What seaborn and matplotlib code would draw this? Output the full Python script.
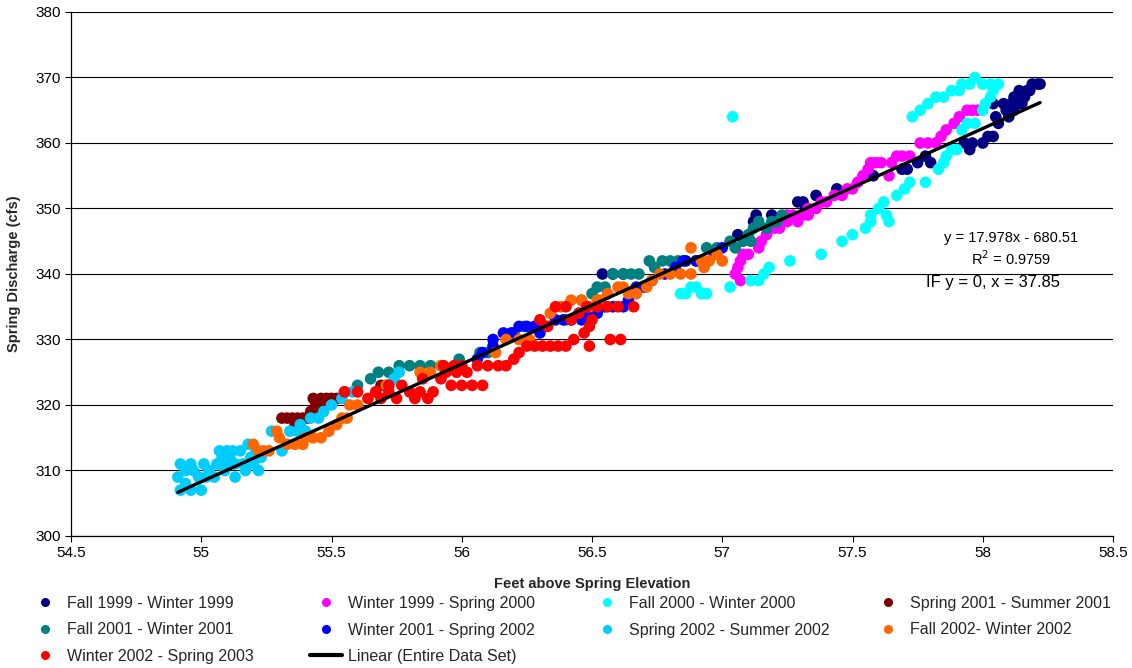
import numpy as np
import pandas as pd
import matplotlib
matplotlib.use("Agg")
import matplotlib.pyplot as plt
import seaborn as sns
from matplotlib.lines import Line2D

# ---------------- data ----------------
series_names = ["Fall 1999 - Winter 1999", "Winter 1999 - Spring 2000", "Fall 2000 - Winter 2000",
                "Spring 2001 - Summer 2001", "Fall 2001 - Winter 2001", "Winter 2001 - Spring 2002",
                "Spring 2002 - Summer 2002", "Fall 2002- Winter 2002", "Winter 2002 - Spring 2003"]
series_colors = ["#000080", "#FF00FF", "#00FFFF", "#800000", "#008080", "#0000FF",
                 "#00CCFF", "#FF6600", "#FF0000"]

fall1999_x = [56.54, 56.58, 56.62, 56.86, 56.90, 57.06, 57.12, 57.13, 57.19, 57.29, 57.31, 57.32, 57.36,
              57.44, 57.56, 57.58, 57.69, 57.71, 57.75, 57.80, 57.78, 57.93, 57.95, 57.96, 58.00, 58.02,
              58.04, 58.05, 58.06, 58.10, 58.09, 58.12, 58.04, 58.08, 58.12, 58.14, 58.16, 58.17, 58.19,
              58.21, 58.22, 58.13, 58.15, 58.11, 58.18]
fall1999_y = [340, 340, 340, 342, 342, 346, 348, 349, 349, 351, 351, 350, 352,
              353, 355, 355, 356, 356, 357, 357, 358, 360, 359, 360, 360, 361,
              361, 364, 363, 364, 365, 365, 366, 366, 367, 368, 367, 368, 369,
              369, 369, 366, 366, 366, 368]

winter1999_x = [57.05, 57.06, 57.07, 57.08, 57.07, 57.10, 57.14, 57.15, 57.17, 57.20, 57.22, 57.25, 57.27,
                57.29, 57.31, 57.33, 57.36, 57.38, 57.40, 57.43, 57.46, 57.48, 57.50, 57.52, 57.54, 57.56,
                57.57, 57.59, 57.61, 57.64, 57.65, 57.67, 57.69, 57.72, 57.76, 57.79, 57.82, 57.84, 57.86,
                57.89, 57.91, 57.94, 57.96, 57.98, 57.25, 57.33]
winter1999_y = [340, 341, 342, 343, 339, 343, 344, 345, 346, 347, 347, 348, 349,
                348, 349, 350, 350, 351, 351, 352, 352, 353, 353, 354, 355, 356,
                357, 357, 357, 355, 357, 358, 358, 358, 360, 360, 360, 361, 362,
                363, 364, 365, 365, 365, 349, 349]

fall2000_x = [56.84, 56.86, 56.88, 56.90, 56.92, 56.94, 57.03, 57.11, 57.14, 57.16, 57.18, 57.26, 57.38,
              57.46, 57.50, 57.55, 57.57, 57.57, 57.60, 57.62, 57.63, 57.64, 57.67, 57.70, 57.72, 57.78,
              57.83, 57.85, 57.86, 57.88, 57.90, 57.92, 57.94, 57.97, 58.00, 58.01, 58.03, 58.04, 57.73,
              57.76, 57.79, 57.82, 57.85, 57.88, 57.91, 57.92, 57.95, 57.97, 58.00, 58.03, 58.06, 57.04]
fall2000_y = [337, 337, 338, 338, 337, 337, 338, 339, 339, 340, 341, 342, 343,
              345, 346, 347, 348, 349, 350, 351, 349, 348, 352, 353, 354, 354,
              356, 357, 358, 359, 359, 362, 363, 363, 365, 366, 367, 368, 364,
              365, 366, 367, 367, 368, 368, 369, 369, 370, 369, 369, 369, 364]

spring2001_x = [55.31, 55.33, 55.35, 55.37, 55.39, 55.41, 55.36, 55.42, 55.44, 55.45, 55.46, 55.48,
                55.50, 55.52, 55.47, 55.69, 55.71, 55.43]
spring2001_y = [318, 318, 318, 318, 318, 318, 317, 319, 320, 319, 321, 321,
                321, 321, 320, 323, 323, 321]

fall2001_x = [55.55, 55.60, 55.65, 55.72, 55.76, 55.80, 55.84, 55.88, 55.92, 55.99, 56.07, 56.10, 56.20,
              56.24, 56.28, 56.40, 56.46, 56.50, 56.52, 56.55, 56.58, 56.62, 56.65, 56.68, 56.72, 56.74,
              56.77, 56.80, 56.83, 56.94, 56.98, 57.03, 57.05, 57.08, 57.11, 57.12, 57.14, 57.17, 57.19,
              57.21, 57.23, 57.10, 55.68]
fall2001_y = [322, 323, 324, 325, 326, 326, 326, 326, 326, 327, 328, 328, 331,
              332, 332, 333, 336, 337, 338, 338, 340, 340, 340, 340, 342, 341,
              342, 342, 342, 344, 344, 345, 344, 345, 345, 347, 348, 347, 348,
              348, 349, 346, 325]

winter2001_x = [56.06, 56.08, 56.12, 56.16, 56.19, 56.22, 56.25, 56.28, 56.32, 56.36, 56.39, 56.42, 56.45,
                56.49, 56.52, 56.55, 56.58, 56.62, 56.64, 56.67, 56.70, 56.73, 56.78, 56.82, 56.85, 56.90,
                56.97, 57.00, 56.46, 56.30, 56.12]
winter2001_y = [327, 328, 330, 331, 331, 332, 332, 332, 332, 333, 333, 333, 334,
                334, 334, 335, 335, 335, 336, 338, 338, 339, 340, 341, 342, 342,
                343, 344, 333, 331, 329]

spring2002_x = [54.92, 54.94, 54.96, 55.01, 54.91, 54.97, 54.92, 54.96, 55.00, 54.94, 54.99, 55.03, 55.07,
                55.10, 55.12, 55.08, 55.13, 55.05, 55.09, 55.13, 55.17, 55.20, 55.22, 55.23, 55.21, 55.15,
                55.18, 55.10, 55.27, 55.31, 55.34, 55.37, 55.42, 55.45, 55.47, 55.50, 55.54, 55.58, 55.67,
                55.74, 55.76, 55.38, 55.40, 55.02, 55.06, 55.11, 55.16, 55.19]
spring2002_y = [311, 310, 311, 311, 309, 310, 307, 307, 307, 308, 309, 310, 313,
                313, 313, 312, 311, 309, 310, 309, 310, 311, 310, 312, 313, 313,
                314, 311, 316, 313, 316, 316, 318, 318, 319, 320, 321, 322, 322,
                324, 325, 317, 316, 309, 311, 312, 311, 312]

fall2002_x = [55.20, 55.22, 55.24, 55.26, 55.29, 55.30, 55.33, 55.36, 55.39, 55.40, 55.43, 55.46, 55.49,
              55.52, 55.54, 55.56, 55.57, 55.60, 55.71, 55.84, 55.88, 55.92, 56.13, 56.17, 56.22, 56.26,
              56.34, 56.38, 56.42, 56.46, 56.52, 56.56, 56.60, 56.62, 56.64, 56.67, 56.71, 56.73, 56.76,
              56.80, 56.84, 56.88, 56.93, 56.92, 56.95, 56.98, 57.00, 56.88, 56.53, 56.49]
fall2002_y = [314, 313, 313, 313, 316, 315, 314, 314, 314, 315, 315, 315, 316,
              317, 318, 318, 320, 320, 323, 325, 325, 326, 328, 330, 330, 330,
              334, 335, 336, 336, 336, 337, 338, 338, 337, 337, 338, 339, 340,
              340, 340, 340, 341, 342, 342, 343, 342, 344, 336, 335]

winter2002_x = [55.55, 55.60, 55.64, 55.67, 55.69, 55.72, 55.75, 55.77, 55.80, 55.82, 55.85, 55.87, 55.89,
                55.92, 55.94, 55.96, 55.98, 56.00, 56.02, 56.04, 56.06, 56.08, 56.10, 55.93, 55.97, 56.00,
                56.14, 56.17, 56.20, 56.22, 56.25, 56.28, 56.31, 56.34, 56.37, 56.40, 56.43, 56.49, 56.47,
                56.49, 56.50, 56.30, 56.33, 56.36, 56.40, 56.42, 56.45, 56.48, 56.52, 56.56, 56.60, 56.66,
                56.57, 56.61, 55.84, 55.72]
winter2002_y = [322, 322, 321, 322, 321, 322, 321, 323, 322, 321, 324, 321, 322,
                324, 325, 323, 325, 323, 325, 323, 326, 323, 326, 326, 326, 326,
                326, 326, 327, 328, 329, 329, 329, 329, 329, 329, 330, 329, 331,
                332, 333, 333, 332, 335, 335, 333, 334, 335, 335, 335, 335, 335,
                330, 330, 322, 323]

series_x = [fall1999_x, winter1999_x, fall2000_x, spring2001_x, fall2001_x,
            winter2001_x, spring2002_x, fall2002_x, winter2002_x]
series_y = [fall1999_y, winter1999_y, fall2000_y, spring2001_y, fall2001_y,
            winter2001_y, spring2002_y, fall2002_y, winter2002_y]

trend_slope = 17.978
trend_intercept = -680.51
trend_label = "Linear (Entire Data Set)"
equation_lines = ["y = 17.978x - 680.51", "R$^2$ = 0.9759"]
note_text = "IF y = 0, x = 37.85"

x_ticks = [54.5, 55, 55.5, 56, 56.5, 57, 57.5, 58, 58.5]
x_tick_labels = ["54.5", "55", "55.5", "56", "56.5", "57", "57.5", "58", "58.5"]
y_ticks = [300, 310, 320, 330, 340, 350, 360, 370, 380]
x_label = "Feet above Spring Elevation"
y_label = "Spring Discharge (cfs)"

# ---------------- build ----------------
frames = []
for name, xs, ys in zip(series_names, series_x, series_y):
    frames.append(pd.DataFrame({"x": xs, "y": ys, "series": name}))
df = pd.concat(frames, ignore_index=True)

sns.set_theme(style="white")
plt.rcParams["font.family"] = ["Liberation Sans", "DejaVu Sans"]

W, H = 1132, 668
fig = plt.figure(figsize=(W / 100, H / 100), dpi=100)
fig.patch.set_facecolor("white")
ax = fig.add_axes([71 / W, 1 - 536 / H, (1113 - 71) / W, (536 - 12) / H])

sns.scatterplot(data=df, x="x", y="y", hue="series", hue_order=series_names,
                palette=series_colors, s=70, linewidth=0, ax=ax, legend=False, zorder=3)

all_x = df["x"].to_numpy()
tx = np.array([all_x.min(), all_x.max()])
ty = trend_slope * tx + trend_intercept
sns.lineplot(x=tx, y=ty, color="black", linewidth=2.4, ax=ax, zorder=4)

ax.set_xlim(54.5, 58.5)
ax.set_ylim(300, 380)
ax.set_xticks(x_ticks)
ax.set_xticklabels(x_tick_labels)
ax.set_yticks(y_ticks)
ax.tick_params(axis="both", labelsize=11, colors="black", direction="out", length=4, width=0.8,
               bottom=True, left=True)
ax.yaxis.grid(True, color="black", linewidth=0.8)
ax.xaxis.grid(False)
ax.set_axisbelow(True)
for side in ["top", "right"]:
    ax.spines[side].set_visible(False)
for side in ["left", "bottom"]:
    ax.spines[side].set_color("black")
    ax.spines[side].set_linewidth(0.9)

ax.set_xlabel(x_label, fontsize=10.5, fontweight="bold", labelpad=12)
ax.set_ylabel(y_label, fontsize=10.5, fontweight="bold", labelpad=10)

# equation
ax.text(1011 / W, 1 - 238 / H, equation_lines[0], transform=fig.transFigure,
        ha="center", va="center", fontsize=10.5, color="black")
ax.text(1011 / W, 1 - 259 / H, equation_lines[1], transform=fig.transFigure,
        ha="center", va="center", fontsize=10.5, color="black")
ax.text(926 / W, 1 - 283 / H, note_text, transform=fig.transFigure,
        ha="left", va="center", fontsize=12, color="black")

# legend (4 columns, Excel layout)
def mk(c):
    return Line2D([], [], marker="o", linestyle="none", markersize=6.5,
                  markerfacecolor=c, markeredgewidth=0)

h = {n: mk(c) for n, c in zip(series_names, series_colors)}
h[trend_label] = Line2D([], [], color="black", linewidth=3)
columns = [
    [series_names[0], series_names[4], series_names[8]],
    [series_names[1], series_names[5], trend_label],
    [series_names[2], series_names[6]],
    [series_names[3], series_names[7]],
]
col_x = [29, 310, 591, 872]
for cx, names in zip(col_x, columns):
    fig.legend(handles=[h[n] for n in names], labels=names, loc="upper left",
               bbox_to_anchor=(cx / W, 1 - 596 / H), frameon=False, fontsize=11.5,
               borderpad=0, borderaxespad=0, handlelength=2.0, handletextpad=0.35,
               labelspacing=0.72)

fig.savefig("out.png", dpi=100, facecolor="white")
